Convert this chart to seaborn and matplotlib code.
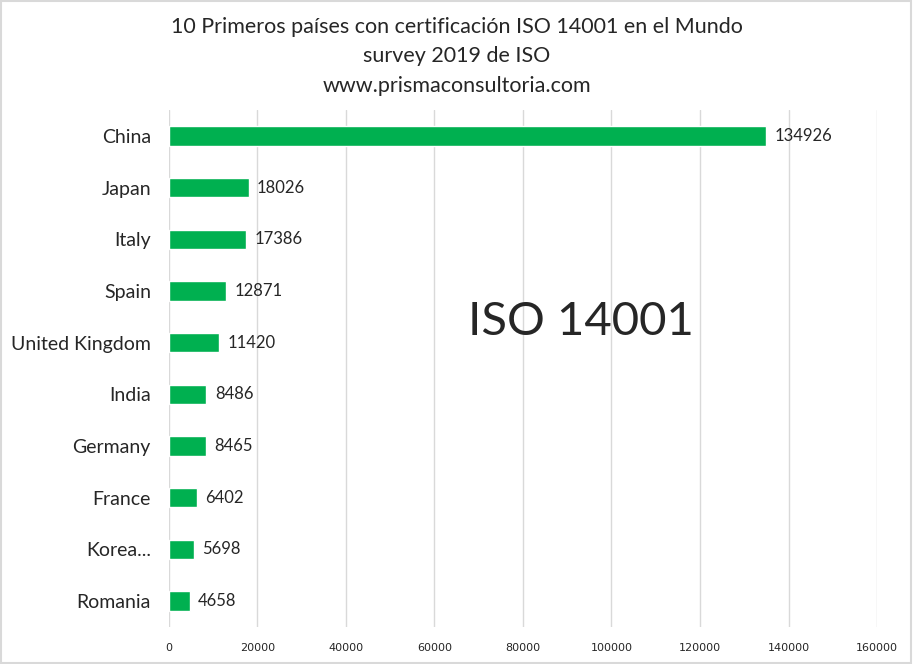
import matplotlib
matplotlib.use("Agg")
import matplotlib.pyplot as plt
import seaborn as sns
import pandas as pd

countries = ["China", "Japan", "Italy", "Spain", "United Kingdom", "India",
             "Germany", "France", "Korea...", "Romania"]
certificates = [134926, 18026, 17386, 12871, 11420, 8486, 8465, 6402, 5698, 4658]
x_ticks = list(range(0, 160001, 20000))

df = pd.DataFrame({"Country": countries, "Certificados": certificates})

sns.set_theme(style="white")
plt.rcParams['font.family'] = ['Lato', 'DejaVu Sans']

fig = plt.figure(figsize=(9.13, 6.64), dpi=100)
ax = fig.add_axes([0.185, 0.056, 0.7756, 0.778])

sns.barplot(data=df, y="Country", x="Certificados", color="#00B050",
            saturation=1, width=0.37, orient="h", ax=ax, zorder=3)

ax.set_xlim(0, 160000)
ax.set_xticks(x_ticks)
ax.set_xticklabels([str(t) for t in x_ticks], fontsize=8, family=['DejaVu Sans'])
ax.tick_params(axis='x', length=0, pad=12)
ax.tick_params(axis='y', length=0, pad=13, labelsize=14)
ax.grid(axis='x', color='#d9d9d9', linewidth=1, zorder=0)
for s in ax.spines.values():
    s.set_visible(False)
ax.set_xlabel("")
ax.set_ylabel("")

# value labels
for p, v in zip(ax.patches, certificates):
    ax.annotate(f"{v}", (p.get_width(), p.get_y() + p.get_height() / 2),
                xytext=(6, 0), textcoords='offset points',
                ha='left', va='center', fontsize=12)

fig.text(0.5, 0.960, "10 Primeros países con certificación ISO 14001 en el Mundo",
         ha='center', va='center', fontsize=15.5)
fig.text(0.5, 0.915, "survey 2019 de ISO", ha='center', va='center', fontsize=15.5)
fig.text(0.5, 0.870, "www.prismaconsultoria.com", ha='center', va='center', fontsize=15.5)

fig.text(0.636, 0.515, "ISO 14001", ha='center', va='center', fontsize=34)

# border
fig.patches.append(plt.Rectangle((0.001, 0.002), 0.997, 0.996, transform=fig.transFigure,
                                 fill=False, edgecolor='#d9d9d9', linewidth=1.5))

fig.savefig("out.png", dpi=100)
